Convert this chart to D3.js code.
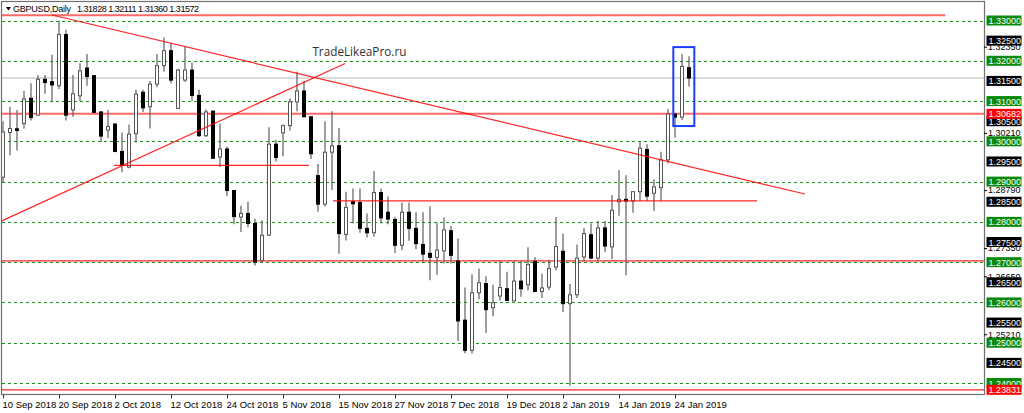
<!DOCTYPE html>
<html>
<head>
<meta charset="utf-8">
<script src="https://cdn.jsdelivr.net/npm/d3@7"></script>
<style>
  body { margin: 0; background: #fff; }
  text { font-family: "Liberation Sans", Arial, sans-serif; }
</style>
</head>
<body>
<div id="chart"></div>
<script>
// GBPUSD daily bars, 10 Sep 2018 .. 28 Jan 2019
const open = [
  1.2911, 1.3022, 1.3031, 1.3044, 1.3107, 1.3065, 1.3154, 1.3148, 1.3138, 1.3265,
  1.3078, 1.3113, 1.3182, 1.3163, 1.3073, 1.3028, 1.3043, 1.2975, 1.2936, 1.3019,
  1.3122, 1.3086, 1.3142, 1.3188, 1.3225, 1.3082, 1.3152, 1.3177, 1.3114, 1.3014,
  1.3075, 1.2961, 1.2981, 1.2878, 1.2812, 1.2821, 1.2796, 1.2704, 1.2767, 1.2993,
  1.3021, 1.3039, 1.3098, 1.3125, 1.3061, 1.2915, 1.2844, 1.2973, 1.2989, 1.2769,
  1.2850, 1.2848, 1.2784, 1.2773, 1.2873, 1.2824, 1.2806, 1.2742, 1.2824, 1.2784,
  1.2744, 1.2722, 1.2712, 1.2728, 1.2778, 1.2703, 1.2556, 1.2481, 1.2624, 1.2647,
  1.2587, 1.2616, 1.2634, 1.2604, 1.2653, 1.2644, 1.2702, 1.2627, 1.2638, 1.2688,
  1.2727, 1.2597, 1.2619, 1.2713, 1.2768, 1.2710, 1.2785, 1.2738, 1.2850, 1.2856,
  1.2852, 1.2875, 1.2980, 1.2871, 1.2885, 1.2954, 1.3068, 1.3060, 1.31828
];
const high = [
  1.3050, 1.3086, 1.3078, 1.3125, 1.3144, 1.3165, 1.3165, 1.3215, 1.3300, 1.3277,
  1.3165, 1.3194, 1.3217, 1.3165, 1.3075, 1.3078, 1.3045, 1.3022, 1.3042, 1.3128,
  1.3128, 1.3150, 1.3217, 1.3258, 1.3244, 1.3180, 1.3234, 1.3196, 1.3129, 1.3079,
  1.3076, 1.3044, 1.2987, 1.2878, 1.2840, 1.2850, 1.2808, 1.2804, 1.3035, 1.3004,
  1.3042, 1.3107, 1.3173, 1.3150, 1.3062, 1.2944, 1.3050, 1.3075, 1.3033, 1.2875,
  1.2883, 1.2883, 1.2821, 1.2926, 1.2883, 1.2863, 1.2813, 1.2848, 1.2848, 1.2824,
  1.2824, 1.2839, 1.2798, 1.2811, 1.2790, 1.2759, 1.2637, 1.2670, 1.2684, 1.2665,
  1.2644, 1.2703, 1.2676, 1.2703, 1.2703, 1.2737, 1.2713, 1.2671, 1.2706, 1.2812,
  1.2771, 1.2646, 1.2744, 1.2785, 1.2796, 1.2802, 1.2802, 1.2866, 1.2929, 1.2916,
  1.2876, 1.2999, 1.2993, 1.2906, 1.2974, 1.3080, 1.3068, 1.3217, 1.32111
];
const low = [
  1.2897, 1.2965, 1.2977, 1.3032, 1.3052, 1.3065, 1.3118, 1.3097, 1.3130, 1.3052,
  1.3061, 1.3100, 1.3138, 1.3070, 1.2998, 1.3008, 1.2973, 1.2923, 1.2933, 1.2998,
  1.3073, 1.3032, 1.3134, 1.3173, 1.3144, 1.3080, 1.3148, 1.3100, 1.3011, 1.3011,
  1.2957, 1.2936, 1.2864, 1.2794, 1.2775, 1.2787, 1.2692, 1.2700, 1.2765, 1.2950,
  1.2963, 1.3027, 1.3075, 1.3060, 1.2956, 1.2825, 1.2838, 1.2879, 1.2721, 1.2754,
  1.2796, 1.2773, 1.2761, 1.2763, 1.2796, 1.2794, 1.2723, 1.2730, 1.2753, 1.2732,
  1.2701, 1.2655, 1.2668, 1.2697, 1.2697, 1.2504, 1.2474, 1.2473, 1.2608, 1.2525,
  1.2566, 1.2605, 1.2603, 1.2603, 1.2614, 1.2630, 1.2626, 1.2611, 1.2630, 1.2680,
  1.2576, 1.2393, 1.2611, 1.2702, 1.2707, 1.2702, 1.2725, 1.2707, 1.2815, 1.2667,
  1.2823, 1.2852, 1.2852, 1.2827, 1.2852, 1.2945, 1.3009, 1.3053, 1.31360
];
const close = [
  1.3023, 1.3032, 1.3027, 1.3105, 1.3059, 1.3154, 1.3146, 1.3140, 1.3265, 1.3065,
  1.3118, 1.3175, 1.3161, 1.3072, 1.3013, 1.3037, 1.2975, 1.2940, 1.3018, 1.3117,
  1.3083, 1.3142, 1.3188, 1.3225, 1.3152, 1.3177, 1.3177, 1.3114, 1.3014, 1.3073,
  1.2958, 1.2981, 1.2878, 1.2813, 1.2821, 1.2796, 1.2700, 1.2767, 1.2993, 1.2960,
  1.3039, 1.3098, 1.3125, 1.3061, 1.2969, 1.2844, 1.2973, 1.2989, 1.2771, 1.2836,
  1.2845, 1.2784, 1.2773, 1.2873, 1.2810, 1.2807, 1.2742, 1.2824, 1.2784, 1.2746,
  1.2720, 1.2712, 1.2730, 1.2780, 1.2717, 1.2554, 1.2481, 1.2624, 1.2649, 1.2582,
  1.2599, 1.2637, 1.2605, 1.2653, 1.2634, 1.2694, 1.2627, 1.2636, 1.2684, 1.2739,
  1.2597, 1.2619, 1.2710, 1.2771, 1.2710, 1.2785, 1.2740, 1.2829, 1.2856, 1.2852,
  1.2875, 1.2983, 1.2864, 1.2887, 1.2954, 1.3068, 1.3060, 1.3186, 1.31572
];

const tickLabels = ["10 Sep 2018", "20 Sep 2018", "2 Oct 2018", "12 Oct 2018", "24 Oct 2018",
  "5 Nov 2018", "15 Nov 2018", "27 Nov 2018", "7 Dec 2018", "19 Dec 2018",
  "2 Jan 2019", "14 Jan 2019", "24 Jan 2019"];
const tickBars = [0, 8, 16, 24, 32, 40, 48, 56, 64, 72, 80, 88, 96];

// price levels
const gridLevels = [1.33, 1.32, 1.31, 1.30, 1.29, 1.28, 1.27, 1.26, 1.25, 1.24];
const blackLevels = [1.325, 1.315, 1.305, 1.295, 1.285, 1.275, 1.265, 1.255, 1.245];
const scaleLevels = [1.3235, 1.3021, 1.2879, 1.2735, 1.2665, 1.2521];
const redLevels = [1.30682, 1.23831];
const fullRedLines = [1.30682, 1.2703, 1.23831];
const bidPrice = 1.31572;

// drawn objects, in bar index / price
const trendFrom = [[-1, 1.3313], [7, 1.33137], [-0.43, 1.28005], [15.86, 1.29405], [47.14, 1.2852]];
const trendTo   = [[134.6, 1.3313], [114.57, 1.28692], [48.86, 1.31932], [43.71, 1.29405], [107.71, 1.2852]];
const boxBars = [95.76, 98.76];
const boxPrices = [1.3234, 1.3038];
const watermark = { text: "TradeLikeaPro.ru", bar: 44.2, price: 1.3212 };

const W = 1024, H = 413;
const plot = { left: 2, top: 2, right: 984, bottom: 394 };

const x = d3.scaleLinear().domain([0, 98]).range([3, 689]);
const y = d3.scaleLinear().domain([1.24, 1.33]).range([383, 20.5]);

const svg = d3.select("#chart")
  .append("svg")
  .attr("width", W)
  .attr("height", H);

svg.append("defs").append("clipPath")
  .attr("id", "clip")
  .append("rect")
  .attr("x", plot.left)
  .attr("y", plot.top)
  .attr("width", plot.right - plot.left)
  .attr("height", plot.bottom - plot.top);

const g = svg.append("g").attr("clip-path", "url(#clip)");

// dashed grid levels
g.selectAll(".grid")
  .data(gridLevels)
  .enter()
  .append("line")
  .attr("x1", plot.left).attr("x2", plot.right)
  .attr("y1", d => Math.round(y(d)) + 0.5)
  .attr("y2", d => Math.round(y(d)) + 0.5)
  .attr("stroke", "#1f8f1f")
  .attr("stroke-width", 1)
  .attr("stroke-dasharray", "3,3");

// bid line
g.append("line")
  .attr("x1", plot.left).attr("x2", plot.right)
  .attr("y1", y(bidPrice)).attr("y2", y(bidPrice))
  .attr("stroke", "#cfcfcf")
  .attr("stroke-width", 1.5);

// red horizontal lines across the chart
g.selectAll(".hred")
  .data(fullRedLines)
  .enter()
  .append("line")
  .attr("x1", plot.left).attr("x2", plot.right)
  .attr("y1", d => y(d)).attr("y2", d => y(d))
  .attr("stroke", "#ff0000")
  .attr("stroke-opacity", (d, i) => i === 0 ? 0.6 : 0.85)
  .attr("stroke-width", (d, i) => i === 0 ? 2 : 1.2);

// candles
const bars = d3.range(open.length);
const wickCol = "#5e5e5e";

g.selectAll(".wick")
  .data(bars)
  .enter()
  .append("line")
  .attr("x1", i => x(i)).attr("x2", i => x(i))
  .attr("y1", i => y(high[i])).attr("y2", i => y(low[i]))
  .attr("stroke", wickCol)
  .attr("stroke-width", 1.2);

g.selectAll(".body")
  .data(bars)
  .enter()
  .append("rect")
  .attr("x", i => x(i) - 1.5)
  .attr("y", i => y(Math.max(open[i], close[i])))
  .attr("width", 3)
  .attr("height", i => Math.max(1, Math.abs(y(open[i]) - y(close[i]))))
  .attr("fill", i => close[i] >= open[i] ? "#fff" : "#000")
  .attr("stroke", i => close[i] >= open[i] ? "#555" : "#000")
  .attr("stroke-width", 1);

// trend lines and level segments
g.selectAll(".trend")
  .data(trendFrom)
  .enter()
  .append("line")
  .attr("x1", d => x(d[0])).attr("y1", d => y(d[1]))
  .attr("x2", (d, i) => x(trendTo[i][0])).attr("y2", (d, i) => y(trendTo[i][1]))
  .attr("stroke", "#ff0000")
  .attr("stroke-opacity", (d, i) => i === 0 ? 0.6 : 0.85)
  .attr("stroke-width", (d, i) => i === 0 ? 2 : 1.2);

// highlight box
g.append("rect")
  .attr("x", x(boxBars[0]))
  .attr("y", y(boxPrices[0]))
  .attr("width", x(boxBars[1]) - x(boxBars[0]))
  .attr("height", y(boxPrices[1]) - y(boxPrices[0]))
  .attr("fill", "none")
  .attr("stroke", "#1f3fff")
  .attr("stroke-width", 2);

// watermark text
g.append("text")
  .attr("x", x(watermark.bar))
  .attr("y", y(watermark.price))
  .attr("textLength", 94)
  .attr("lengthAdjust", "spacingAndGlyphs")
  .style("font-family", "'Open Sans', 'Noto Sans', sans-serif")
  .style("font-size", "13px")
  .style("fill", "#333")
  .text(watermark.text);

// header
const fmt = d3.format(".5f");
const last = open.length - 1;
svg.append("path")
  .attr("d", "M6,7 L11,7 L8.5,10.5 Z")
  .attr("fill", "#000");
svg.append("text")
  .attr("x", 13).attr("y", 12)
  .attr("textLength", 58)
  .style("font-size", "9px")
  .text("GBPUSD,Daily");
svg.append("text")
  .attr("x", 77).attr("y", 12)
  .attr("textLength", 122)
  .style("font-size", "9px")
  .text([open[last], high[last], low[last], close[last]].map(fmt).join(" "));

// frame
svg.append("rect")
  .attr("x", plot.left - 0.5)
  .attr("y", plot.top - 0.5)
  .attr("width", plot.right - plot.left + 1)
  .attr("height", plot.bottom - plot.top + 1)
  .attr("fill", "none")
  .attr("stroke", "#707070")
  .attr("stroke-width", 1.2);

// time axis
svg.append("g")
  .attr("transform", `translate(0,${plot.bottom + 0.5})`)
  .call(d3.axisBottom(x)
    .tickValues(tickBars)
    .tickSize(4)
    .tickFormat((d, i) => tickLabels[i]))
  .call(a => a.select(".domain").remove())
  .call(a => a.selectAll("line").attr("stroke", "#333"))
  .call(a => a.selectAll("text")
    .attr("text-anchor", "start")
    .attr("x", -1)
    .attr("y", 7)
    .style("font-family", "'Liberation Sans', Arial, sans-serif")
    .style("font-size", "9.5px")
    .style("fill", "#000"));

// price axis
const axisG = svg.append("g").attr("transform", `translate(${plot.right},0)`);
axisG.call(d3.axisRight(y)
    .tickValues(scaleLevels)
    .tickSize(3)
    .tickPadding(1)
    .tickFormat(fmt))
  .call(a => a.select(".domain").remove())
  .call(a => a.selectAll("line").attr("stroke", "#000"))
  .call(a => a.selectAll("text")
    .style("font-family", "'Liberation Sans', Arial, sans-serif")
    .style("font-size", "9px")
    .style("fill", "#000"));

function priceBoxes(levels, bg) {
  const lg = axisG.selectAll(null)
    .data(levels)
    .enter()
    .append("g")
    .attr("transform", d => `translate(0,${y(d)})`);
  lg.append("rect")
    .attr("x", 2.5).attr("y", -5)
    .attr("width", 35).attr("height", 10)
    .attr("fill", bg);
  lg.append("text")
    .attr("x", 4.5).attr("y", 3.5)
    .style("font-size", "9px")
    .style("fill", "#fff")
    .text(fmt);
}
priceBoxes(blackLevels, "#000");
priceBoxes(gridLevels, "#0a8a0a");
priceBoxes(redLevels, "#ff0000");
</script>
</body>
</html>
